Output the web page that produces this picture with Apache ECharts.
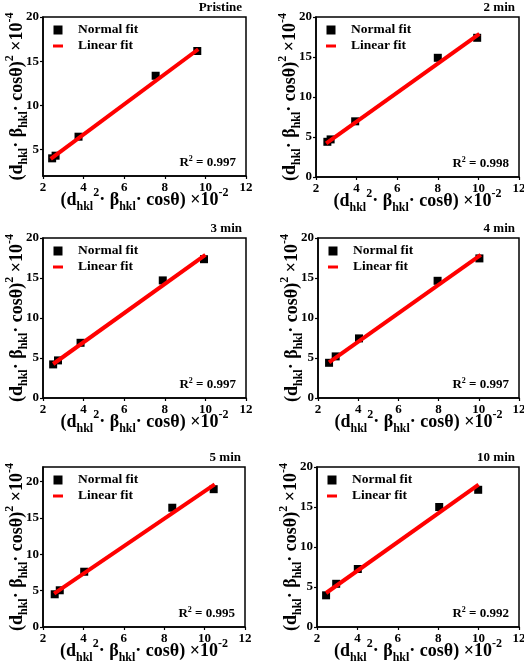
<!DOCTYPE html>
<html>
<head>
<meta charset="utf-8">
<script src="https://cdn.jsdelivr.net/npm/echarts@6/dist/echarts.min.js"></script>
<style>html,body{margin:0;padding:0;background:#fff;}#c{width:524px;height:665px;}</style>
</head>
<body>
<div id="c"></div>
<script>
// ---- data ----
const panelTitles = ['Pristine', '2 min', '3 min', '4 min', '5 min', '10 min'];
const r2Values = ['0.997', '0.998', '0.997', '0.997', '0.995', '0.992'];
const xTicks = [2, 4, 6, 8, 10, 12];
const yTicksA = [5, 10, 15, 20];
const yTicksB = [0, 5, 10, 15, 20];

const pristineX = [2.45, 2.62, 3.75, 7.55, 9.6];
const pristineY = [4.0, 4.3, 6.45, 13.35, 16.15];
const pristineFitX = [2.38, 9.65];
const pristineFitY = [3.95, 16.35];

const min2X = [2.56, 2.72, 3.93, 8.0, 9.94];
const min2Y = [4.4, 4.7, 6.96, 14.9, 17.4];
const min2FitX = [2.5, 10.05];
const min2FitY = [4.2, 17.9];

const min3X = [2.5, 2.74, 3.85, 7.9, 9.93];
const min3Y = [4.2, 4.7, 6.9, 14.7, 17.35];
const min3FitX = [2.5, 10.0];
const min3FitY = [4.25, 17.9];

const min4X = [2.55, 2.88, 4.04, 7.95, 10.03];
const min4Y = [4.4, 5.2, 7.45, 14.65, 17.45];
const min4FitX = [2.55, 10.1];
const min4FitY = [4.45, 17.9];

const min5X = [2.58, 2.83, 4.04, 8.4, 10.45];
const min5Y = [4.5, 5.05, 7.6, 16.4, 18.95];
const min5FitX = [2.55, 10.5];
const min5FitY = [4.6, 19.6];

const min10X = [2.45, 2.95, 4.02, 8.05, 9.98];
const min10Y = [3.96, 5.4, 7.25, 15.0, 17.15];
const min10FitX = [2.45, 10.0];
const min10FitY = [4.25, 17.8];

const pointsX = [pristineX, min2X, min3X, min4X, min5X, min10X];
const pointsY = [pristineY, min2Y, min3Y, min4Y, min5Y, min10Y];
const fitsX = [pristineFitX, min2FitX, min3FitX, min4FitX, min5FitX, min10FitX];
const fitsY = [pristineFitY, min2FitY, min3FitY, min4FitY, min5FitY, min10FitY];
const yRanges = [[2, 20], [0, 20], [0, 20], [0, 20], [0, 22], [0, 20]];
const yTickSets = [yTicksA, yTicksB, yTicksB, yTicksB, yTicksB, yTicksB];

// ---- layout (positions only) ----
const layout = [
  {left: 43, top: 17, width: 203, height: 159},
  {left: 316, top: 17, width: 203, height: 160},
  {left: 43, top: 238, width: 203, height: 160},
  {left: 318, top: 238, width: 201, height: 160},
  {left: 43, top: 467, width: 202, height: 160},
  {left: 317, top: 467, width: 202, height: 160}
];

const FONT = "'Liberation Serif', 'Times New Roman', serif";
const nameRich = {
  m: {fontFamily: FONT, fontWeight: 'bold', fontSize: 18, lineHeight: 26, color: '#000'},
  s: {fontFamily: FONT, fontWeight: 'bold', fontSize: 12, lineHeight: 11, verticalAlign: 'bottom', color: '#000'},
  u: {fontFamily: FONT, fontWeight: 'bold', fontSize: 12, lineHeight: 11, verticalAlign: 'top', color: '#000'}
};
const yName = '{m|(d}{s|hkl}{m|· β}{s|hkl}{m|· cosθ)}{u|2}{m| ×10}{u|-4}';
const xName = '{m|(d}{s|hkl}{u|2}{m|· β}{s|hkl}{m|· cosθ) ×10}{u|-2}';

const grids = [], xAxes = [], yAxes = [], series = [], legends = [], titles = [];
layout.forEach((g, i) => {
  grids.push({left: g.left, top: g.top, width: g.width, height: g.height, show: true,
    containLabel: false, outerBoundsMode: 'none',
    borderColor: '#000', borderWidth: 1.5, backgroundColor: 'transparent'});
  xAxes.push({
    type: 'value', gridIndex: i, min: 2, max: 12, interval: 2,
    axisLine: {show: true, onZero: false, lineStyle: {color: '#000', width: 1.5}},
    axisTick: {show: true, length: 3, lineStyle: {color: '#000', width: 1.2}},
    axisLabel: {color: '#000', fontFamily: FONT, fontWeight: 'bold', fontSize: 13, margin: 5,
      customValues: xTicks, showMinLabel: true, showMaxLabel: true},
    splitLine: {show: false},
    name: xName, nameLocation: 'middle', nameGap: 11, nameMoveOverlap: false,
    nameTextStyle: {rich: nameRich}
  });
  yAxes.push({
    type: 'value', gridIndex: i, min: yRanges[i][0], max: yRanges[i][1],
    axisLine: {show: true, onZero: false, lineStyle: {color: '#000', width: 1.5}},
    axisTick: {show: true, length: 3, customValues: yTickSets[i], lineStyle: {color: '#000', width: 1.2}},
    axisLabel: {color: '#000', fontFamily: FONT, fontWeight: 'bold', fontSize: 13, margin: 4,
      customValues: yTickSets[i]},
    splitLine: {show: false},
    name: yName, nameLocation: 'middle', nameGap: 13, nameMoveOverlap: false,
    nameTextStyle: {rich: nameRich}
  });
  series.push({
    name: 'Normal fit', type: 'scatter', xAxisIndex: i, yAxisIndex: i,
    symbol: 'rect', symbolSize: 8, itemStyle: {color: '#000', opacity: 1},
    data: pointsX[i].map((x, k) => [x, pointsY[i][k]]), z: 2
  });
  series.push({
    name: 'Linear fit', type: 'line', xAxisIndex: i, yAxisIndex: i,
    symbol: 'none', showSymbol: false, lineStyle: {color: '#ff0000', width: 4}, itemStyle: {color: '#ff0000'},
    data: fitsX[i].map((x, k) => [x, fitsY[i][k]]), z: 3
  });
  legends.push({
    left: g.left + 5, top: g.top + 1, orient: 'vertical', itemWidth: 10, itemHeight: 9, itemGap: 2,
    selectedMode: false, symbolKeepAspect: true,
    textStyle: {fontFamily: FONT, fontWeight: 'bold', fontSize: 13.5, color: '#000', padding: [0, 0, 0, 10]},
    data: [
      {name: 'Normal fit', icon: 'path://M0,0H10V10H0Z', itemStyle: {color: '#000', opacity: 1}},
      {name: 'Linear fit', icon: 'path://M0,0H10V3H0Z', itemStyle: {color: '#ff0000'}}
    ]
  });
  titles.push({
    text: panelTitles[i], right: 524 - (g.left + g.width) + 4, top: g.top - 16, padding: 0,
    textStyle: {fontFamily: FONT, fontWeight: 'bold', fontSize: 13, color: '#000'}
  });
  titles.push({
    text: '{a|R}{b|2}{a| = ' + r2Values[i] + '}', right: 524 - (g.left + g.width) + 10,
    top: g.top + g.height - 21, padding: 0,
    textStyle: {rich: {
      a: {fontFamily: FONT, fontWeight: 'bold', fontSize: 13, lineHeight: 16, color: '#000'},
      b: {fontFamily: FONT, fontWeight: 'bold', fontSize: 8, lineHeight: 8, verticalAlign: 'top', color: '#000'}
    }}
  });
});

const chart = echarts.init(document.getElementById('c'), null, {renderer: 'canvas'});
chart.setOption({
  animation: false,
  backgroundColor: '#fff',
  title: titles,
  legend: legends,
  grid: grids,
  xAxis: xAxes,
  yAxis: yAxes,
  series: series
});
</script>
</body>
</html>
